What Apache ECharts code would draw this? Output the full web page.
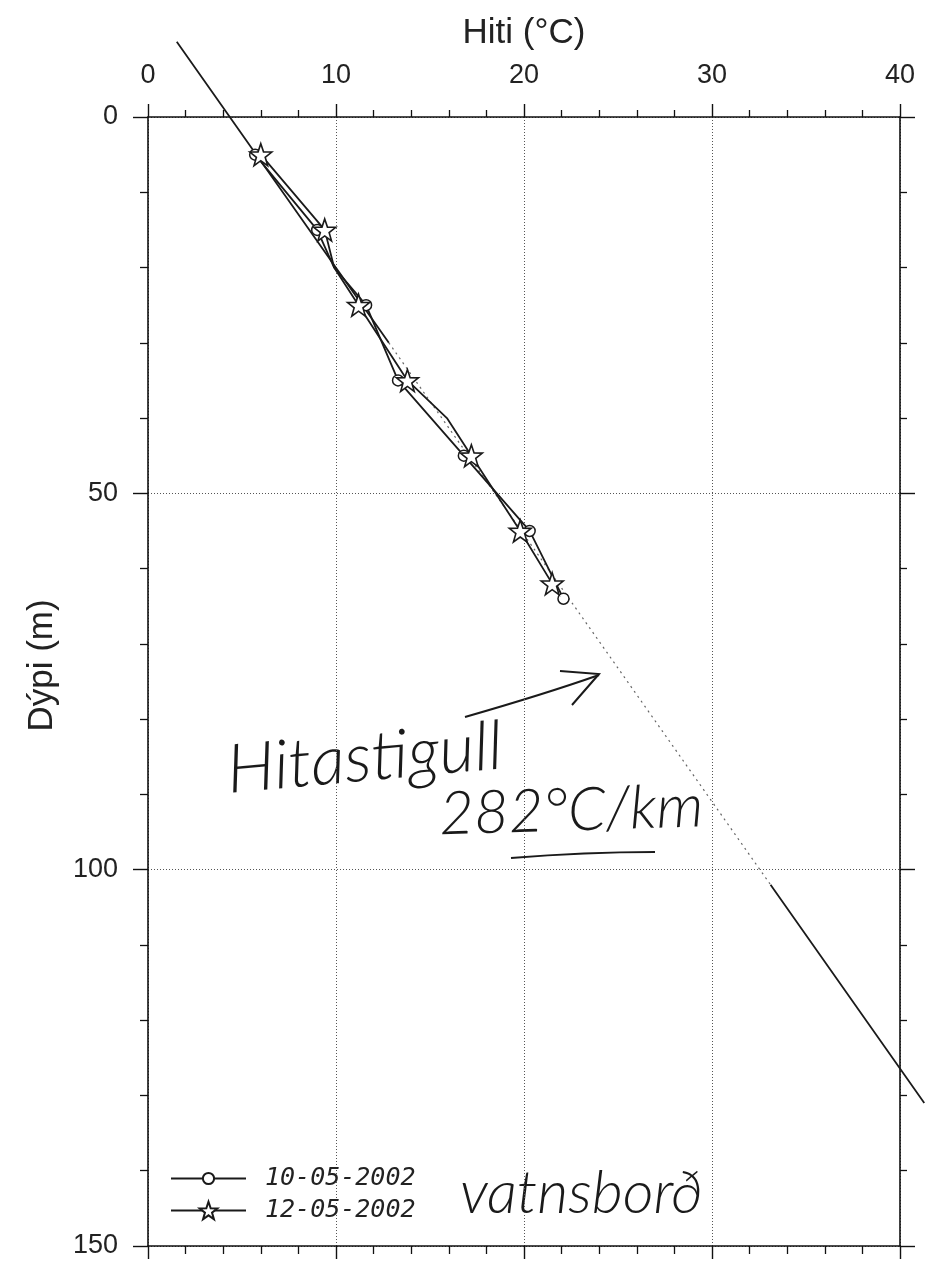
<!DOCTYPE html>
<html>
<head>
<meta charset="utf-8">
<script src="https://cdn.jsdelivr.net/npm/echarts@6/dist/echarts.min.js"></script>
<style>
  html, body { margin: 0; padding: 0; background: #ffffff; }
  #chart { width: 925px; height: 1264px; }
</style>
</head>
<body>
<div id="chart"></div>
<script>
// Borehole temperature logs: depth (m) and temperature (°C)
const seriesNames = ['10-05-2002', '12-05-2002'];

const depth0510 = [5, 15, 20, 25, 35, 45, 55, 64];
const temp0510  = [5.7, 9.0, 9.9, 11.6, 13.3, 16.8, 20.3, 22.1];

const depth1205 = [5, 15, 20, 25, 35, 40, 45, 55, 62];
const temp1205  = [6.0, 9.4, 9.9, 11.2, 13.8, 15.9, 17.2, 19.8, 21.5];

// Fitted gradient line (282 °C/km)
const gradientPerKm = 282;
const surfaceTemp = 4.35;
const gradientSolidTop = [-10, 30];
const gradientFaint = [30, 102];
const gradientSolidBottom = [102, 131];

// Axis ticks
const tempTicks = [0, 10, 20, 30, 40];
const depthTicks = [0, 50, 100, 150];

const tempAt = z => surfaceTemp + gradientPerKm / 1000 * z;
const pairs = (temps, depths) => depths.map((d, i) => [temps[i], d]);
const linePts = depths => depths.map(d => [tempAt(d), d]);

// Five-pointed outline star
const starPath = 'path://M50 0 L61.76 33.82 L97.55 34.55 L69.02 56.18 L79.39 90.45 L50 70 L20.61 90.45 L30.98 56.18 L2.45 34.55 L38.24 33.82 Z';

// Markers sit on the logged stations; in-between readings only bend the line
const markerSize = size => (val) => (val[1] % 10 === 0) ? 0 : size;

const axisFont = 'Liberation Sans, Arial, Helvetica, sans-serif';
const handFont = 'Lato, "DejaVu Sans", sans-serif';
const ink = '#1a1a1a';

const tMin = tempTicks[0], tMax = tempTicks[tempTicks.length - 1];
const zMin = depthTicks[0], zMax = depthTicks[depthTicks.length - 1];
const tStep = tempTicks[1] - tempTicks[0];
const zStep = depthTicks[1] - depthTicks[0];

// Plot frame in pixels
const frame = { left: 148, top: 117, width: 752, height: 1129 };
const pxPerT = frame.width / (tMax - tMin);
const pxPerZ = frame.height / (zMax - zMin);

// The gradient line runs past the frame, so it lives on a hidden grid
// with the same scale but a wider extent (kept inside the canvas).
const extT = [tMin, 41.3];
const extZ = [-10, zMax];
const extGrid = {
  left: frame.left - (tMin - extT[0]) * pxPerT,
  top: frame.top - (zMin - extZ[0]) * pxPerZ,
  width: (extT[1] - extT[0]) * pxPerT,
  height: (extZ[1] - extZ[0]) * pxPerZ
};

const axisLine = { show: true, onZero: false, lineStyle: { color: '#111', width: 1.6 } };
const tick = len => ({ show: true, inside: false, length: len, lineStyle: { color: '#111', width: 1.4 } });
const minor = len => ({ show: true, splitNumber: 5, length: len, lineStyle: { color: '#111', width: 1.3 } });
const labelStyle = m => ({ margin: m, fontFamily: axisFont, fontSize: 27, color: '#222', showMinLabel: true, showMaxLabel: true });
const gridLine = { show: true, lineStyle: { color: '#555', width: 1, type: [1, 2] } };
const legendText = { fontFamily: 'DejaVu Sans Mono, monospace', fontStyle: 'italic', fontSize: 25, color: '#222', padding: [0, 0, 0, 14] };

const chart = echarts.init(document.getElementById('chart'), null, { renderer: 'canvas' });

chart.setOption({
  backgroundColor: '#ffffff',
  animation: false,
  grid: [
    { left: frame.left, top: frame.top, width: frame.width, height: frame.height, containLabel: false },
    { left: extGrid.left, top: extGrid.top, width: extGrid.width, height: extGrid.height, containLabel: false, show: false }
  ],
  xAxis: [
    {
      type: 'value', gridIndex: 0, position: 'top',
      min: tMin, max: tMax, interval: tStep,
      name: 'Hiti (\u00B0C)', nameLocation: 'middle', nameGap: 66,
      nameTextStyle: { fontFamily: axisFont, fontSize: 35, color: '#222' },
      axisLine: axisLine, axisTick: tick(13), minorTick: minor(7),
      axisLabel: labelStyle(28),
      splitLine: gridLine
    },
    {
      type: 'value', gridIndex: 0, position: 'bottom',
      min: tMin, max: tMax, interval: tStep,
      axisLine: axisLine, axisTick: tick(13), minorTick: minor(8),
      axisLabel: { show: false }, splitLine: { show: false }
    },
    {
      type: 'value', gridIndex: 1, min: extT[0], max: extT[1], show: false
    }
  ],
  yAxis: [
    {
      type: 'value', gridIndex: 0, position: 'left', inverse: true,
      min: zMin, max: zMax, interval: zStep,
      name: 'D\u00FDpi (m)', nameLocation: 'middle', nameGap: 88,
      nameTextStyle: { fontFamily: axisFont, fontSize: 35, color: '#222', padding: [0, 0, 0, 32] },
      axisLine: axisLine, axisTick: tick(15), minorTick: minor(8),
      axisLabel: labelStyle(30),
      splitLine: gridLine
    },
    {
      type: 'value', gridIndex: 0, position: 'right', inverse: true,
      min: zMin, max: zMax, interval: zStep,
      axisLine: axisLine, axisTick: tick(15), minorTick: minor(7),
      axisLabel: { show: false }, splitLine: { show: false }
    },
    {
      type: 'value', gridIndex: 1, inverse: true, min: extZ[0], max: extZ[1], show: false
    }
  ],
  legend: [
    {
      data: [seriesNames[0]], orient: 'vertical', left: 170, top: 1166, padding: 0,
      itemWidth: 75, itemHeight: 14, textStyle: legendText
    },
    {
      data: [seriesNames[1]], orient: 'vertical', left: 170, top: 1198, padding: 0,
      itemWidth: 75, itemHeight: 22, textStyle: legendText
    }
  ],
  series: [
    {
      name: 'gradient', type: 'line', silent: true, xAxisIndex: 2, yAxisIndex: 2, z: 1,
      data: [...linePts(gradientSolidTop), '-', ...linePts(gradientSolidBottom)],
      connectNulls: false, showSymbol: false, symbol: 'none', clip: false,
      lineStyle: { color: ink, width: 1.8 }
    },
    {
      name: 'gradient-faint', type: 'line', silent: true, xAxisIndex: 2, yAxisIndex: 2, z: 1,
      data: linePts(gradientFaint), showSymbol: false, symbol: 'none',
      lineStyle: { color: '#666', width: 1.2, type: [2, 4] }
    },
    {
      name: seriesNames[0], type: 'line', z: 3,
      data: pairs(temp0510, depth0510),
      symbol: 'circle', symbolSize: markerSize(11), showAllSymbol: true,
      lineStyle: { color: ink, width: 1.8 },
      itemStyle: { color: '#ffffff', borderColor: ink, borderWidth: 1.5 }
    },
    {
      name: seriesNames[1], type: 'line', z: 4,
      data: pairs(temp1205, depth1205),
      symbol: starPath, symbolSize: markerSize(22), showAllSymbol: true,
      lineStyle: { color: ink, width: 1.8 },
      itemStyle: { color: '#ffffff', borderColor: ink, borderWidth: 1.6 }
    }
  ],
  graphic: [
    {
      type: 'text', x: 230, y: 805, rotation: 0.09,
      style: { text: 'Hitastigull', font: 'italic 300 68px ' + handFont, fill: ink, verticalAlign: 'bottom' }
    },
    {
      type: 'text', x: 440, y: 845, rotation: 0.03,
      style: { text: '282\u00B0C/km', font: 'italic 300 60px ' + handFont, fill: ink, verticalAlign: 'bottom' }
    },
    {
      type: 'bezierCurve',
      shape: { x1: 511, y1: 858, x2: 655, y2: 852, cpx1: 585, cpy1: 852 },
      style: { stroke: ink, lineWidth: 2, fill: null }
    },
    {
      type: 'bezierCurve',
      shape: { x1: 465, y1: 717, x2: 599, y2: 675, cpx1: 545, cpy1: 694 },
      style: { stroke: ink, lineWidth: 2, fill: null }
    },
    {
      type: 'polyline',
      shape: { points: [[560, 671], [599, 674], [572, 705]] },
      style: { stroke: ink, lineWidth: 2, fill: null }
    },
    {
      type: 'text', x: 460, y: 1224,
      style: { text: 'vatnsbor\u00F0', font: 'italic 300 60px ' + handFont, fill: ink, verticalAlign: 'bottom' }
    }
  ]
});
</script>
</body>
</html>
